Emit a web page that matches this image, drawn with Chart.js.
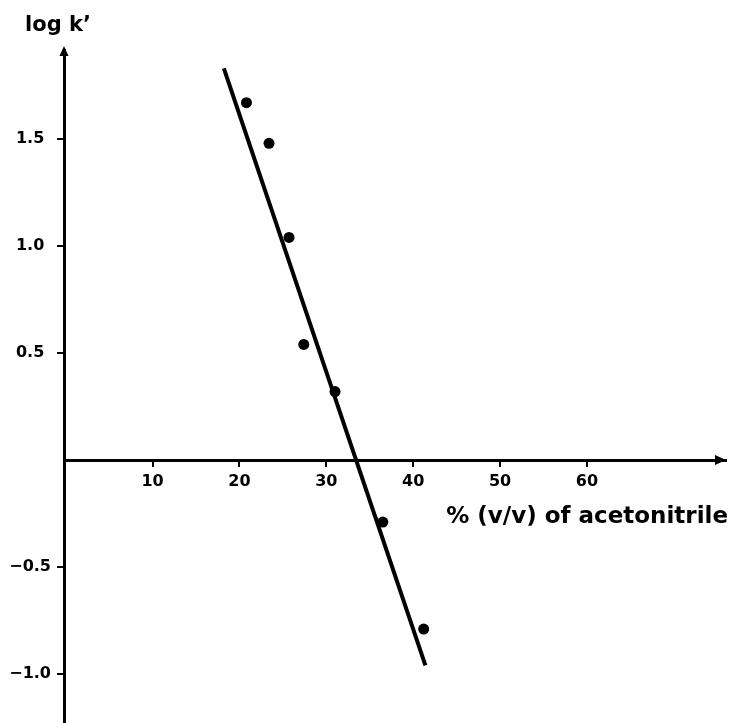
<!DOCTYPE html>
<html>
<head>
<meta charset="utf-8">
<title>log k' vs % acetonitrile</title>
<script src="https://cdn.jsdelivr.net/npm/chart.js@4.4.1/dist/chart.umd.min.js"></script>
<style>
  html, body { margin: 0; padding: 0; background: #fff; }
  #chart { display: block; }
</style>
</head>
<body>
<canvas id="chart" width="729" height="723"></canvas>
<script>
// measured points
const acetonitrile = [20.8, 23.4, 25.7, 27.4, 31.0, 36.5, 41.2];
const logK = [1.67, 1.48, 1.04, 0.54, 0.32, -0.29, -0.79];

// fitted straight line, end points as drawn
const fitX = [18.2, 41.4];
const fitY = [1.83, -0.96];

const xTicks = [10, 20, 30, 40, 50, 60];
const xTickLabels = ['10', '20', '30', '40', '50', '60'];
const yTicks = [-1.0, -0.5, 0.5, 1.0, 1.5];
const yTickLabels = ['−1.0', '−0.5', '0.5', '1.0', '1.5'];

const xTitle = '% (v/v) of acetonitrile';
const yTitle = 'log k’';

Chart.defaults.font.family = '"DejaVu Sans", sans-serif';
Chart.defaults.color = '#000';

// arrow heads on both axes + the two axis titles
const axisDecor = {
    id: 'axisDecor',
    afterDraw(chart) {
        const { ctx, chartArea, scales } = chart;
        const left = chartArea.left;
        const y0 = scales.y.getPixelForValue(0);
        ctx.save();
        ctx.fillStyle = '#000';

        // y arrow
        ctx.beginPath();
        ctx.moveTo(left, chartArea.top - 4);
        ctx.lineTo(left - 4.5, chartArea.top + 6);
        ctx.lineTo(left + 4.5, chartArea.top + 6);
        ctx.closePath();
        ctx.fill();

        // x arrow
        ctx.beginPath();
        ctx.moveTo(chartArea.right, y0);
        ctx.lineTo(chartArea.right - 11, y0 - 5);
        ctx.lineTo(chartArea.right - 11, y0 + 5);
        ctx.closePath();
        ctx.fill();

        ctx.font = 'bold 21px "DejaVu Sans", sans-serif';
        ctx.textBaseline = 'alphabetic';
        ctx.textAlign = 'left';
        ctx.fillText(yTitle, 25, 31);

        ctx.font = 'bold 23px "DejaVu Sans", sans-serif';
        ctx.textAlign = 'right';
        ctx.fillText(xTitle, 728, 523);
        ctx.restore();
    }
};

const ctx = document.getElementById('chart').getContext('2d');

new Chart(ctx, {
    type: 'scatter',
    data: {
        datasets: [
            {
                label: 'fit',
                type: 'line',
                data: fitX.map((x, i) => ({ x: x, y: fitY[i] })),
                borderColor: '#000',
                borderWidth: 4,
                pointRadius: 0,
                fill: false,
                tension: 0
            },
            {
                label: 'log k\'',
                data: acetonitrile.map((x, i) => ({ x: x, y: logK[i] })),
                backgroundColor: '#000',
                borderColor: '#000',
                pointRadius: 5.5,
                pointBorderWidth: 0
            }
        ]
    },
    options: {
        responsive: false,
        animation: false,
        devicePixelRatio: 1,
        layout: {
            autoPadding: false,
            padding: { left: 0, top: 50, right: 3, bottom: 0 }
        },
        plugins: {
            legend: { display: false },
            tooltip: { enabled: false }
        },
        scales: {
            x: {
                type: 'linear',
                position: { y: 0 },
                min: -0.2,
                max: 76,
                afterFit: s => { s.height = 0; },
                afterBuildTicks: s => { s.ticks = xTicks.map(v => ({ value: v })); },
                border: { color: '#000', width: 3 },
                grid: {
                    drawOnChartArea: false,
                    drawTicks: true,
                    tickLength: 5,
                    color: '#000',
                    lineWidth: 2
                },
                ticks: {
                    padding: 7,
                    maxRotation: 0,
                    font: { size: 16, weight: 'bold' },
                    callback: (v, i) => xTickLabels[i]
                }
            },
            y: {
                type: 'linear',
                position: 'left',
                min: -1.229,
                max: 1.916,
                // fixed width, and no extra room kept for the end labels
                afterFit: s => {
                    s.width = 64;
                    s.paddingTop = 0;
                    s.paddingBottom = 0;
                },
                afterBuildTicks: s => { s.ticks = yTicks.map(v => ({ value: v })); },
                border: { color: '#000', width: 3 },
                grid: {
                    drawOnChartArea: false,
                    drawTicks: true,
                    tickLength: 7,
                    color: '#000',
                    lineWidth: 2
                },
                ticks: {
                    padding: 6,
                    crossAlign: 'center',
                    font: { size: 16, weight: 'bold' },
                    callback: (v, i) => yTickLabels[i]
                }
            }
        }
    },
    plugins: [axisDecor]
});
</script>
</body>
</html>
